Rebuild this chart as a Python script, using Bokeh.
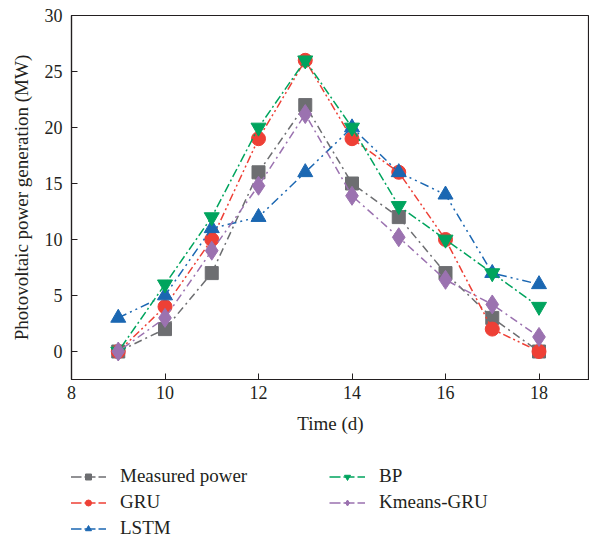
from bokeh.plotting import figure
from bokeh.models import Legend, LegendItem, FixedTicker, Range1d
from bokeh.layouts import column
from bokeh.embed import file_html
from bokeh.resources import INLINE

time = [9, 10, 11, 12, 13, 14, 15, 16, 17, 18]
measured = [0, 2, 7, 16, 22, 15, 12, 7, 3, 0]
gru = [0, 4, 10, 19, 26, 19, 16, 10, 2, 0]
lstm = [3, 5, 11, 12, 16, 20, 16, 14, 7, 6]
bp = [0, 6, 12, 20, 26, 20, 13, 10, 7, 4]
kmeans_gru = [0, 3, 9, 14.8, 21.2, 13.9, 10.2, 6.4, 4.2, 1.3]

names = ["Measured power", "GRU", "LSTM", "BP", "Kmeans-GRU"]
x_ticks = [8, 10, 12, 14, 16, 18]
y_ticks = [0, 5, 10, 15, 20, 25, 30]

FONT = "Liberation Serif"
AXC = "#231f20"

p = figure(width=589, height=440, output_backend="svg", toolbar_location=None,
           x_range=Range1d(8, 19.08), y_range=Range1d(-2.5, 30),
           min_border_left=71, min_border_right=0, min_border_top=15, min_border_bottom=61)
p.background_fill_color = "white"
p.border_fill_color = "white"
p.outline_line_color = AXC
p.outline_line_width = 1.2
p.grid.visible = False

for ax in (p.xaxis[0], p.yaxis[0]):
    ax.axis_line_color = AXC
    ax.axis_line_width = 1.2
    ax.major_tick_line_color = AXC
    ax.major_tick_in = 6
    ax.major_tick_out = 0
    ax.minor_tick_line_color = None
    ax.major_label_text_font = FONT
    ax.major_label_text_font_size = "18px"
    ax.major_label_text_color = AXC
    ax.axis_label_text_font = FONT
    ax.axis_label_text_font_size = "19px"
    ax.axis_label_text_font_style = "normal"
    ax.axis_label_text_color = AXC

p.xaxis.ticker = FixedTicker(ticks=x_ticks)
p.yaxis.ticker = FixedTicker(ticks=y_ticks)
p.xaxis.axis_label = "Time (d)"
p.yaxis.axis_label = "Photovoltaic power generation (MW)"
p.xaxis.major_label_standoff = 6
p.yaxis.major_label_standoff = 9
p.xaxis.axis_label_standoff = 11
p.yaxis.axis_label_standoff = 10

series = [
    (measured, "#6d6e71", "square", 13, "8 4 2 4"),
    (gru, "#ee4036", "circle", 14, "8 3 2 3 2 3"),
    (lstm, "#1b67b2", "triangle", 15, "9 4 2 4 2 4"),
    (bp, "#00a45e", "inverted_triangle", 15, "2 3 9 3"),
    (kmeans_gru, "#9b72b0", "diamond", 19, "2 4 8 4"),
]

# legend panel below the chart (its frame is aligned with the chart frame)
q = figure(width=589, height=99, output_backend="svg", toolbar_location=None,
           x_range=Range1d(0, 1), y_range=Range1d(0, 1),
           min_border_left=71, min_border_right=0,
           min_border_top=0, min_border_bottom=0)
q.axis.visible = False
q.grid.visible = False
q.outline_line_color = None
q.background_fill_color = "white"
q.border_fill_color = "white"

items = []
for (ys, col, mk, sz, dash), name in zip(series, names):
    p.line(time, ys, line_color=col, line_width=1.5, line_dash=dash)
    p.scatter(time, ys, marker=mk, size=sz, fill_color=col, line_color=col)
    lr = q.line([-10, -9], [-10, -9], line_color=col, line_width=1.5, line_dash="11 3")
    sr = q.scatter([-10], [-10], marker=mk, size=sz, fill_color=col, line_color=col)
    items.append(LegendItem(label=name, renderers=[lr, sr]))

legend = Legend(items=items, ncols=2, location=(-1, 0),
                label_text_font=FONT, label_text_font_size="19px", label_text_color=AXC,
                glyph_width=36, glyph_height=15, label_standoff=14, label_width=205,
                label_height=20, spacing=4, padding=0, margin=0,
                border_line_color=None, background_fill_alpha=0)
q.add_layout(legend, "center")

layout = column(p, q, spacing=0)
open("out.html", "w").write(file_html(layout, INLINE))
